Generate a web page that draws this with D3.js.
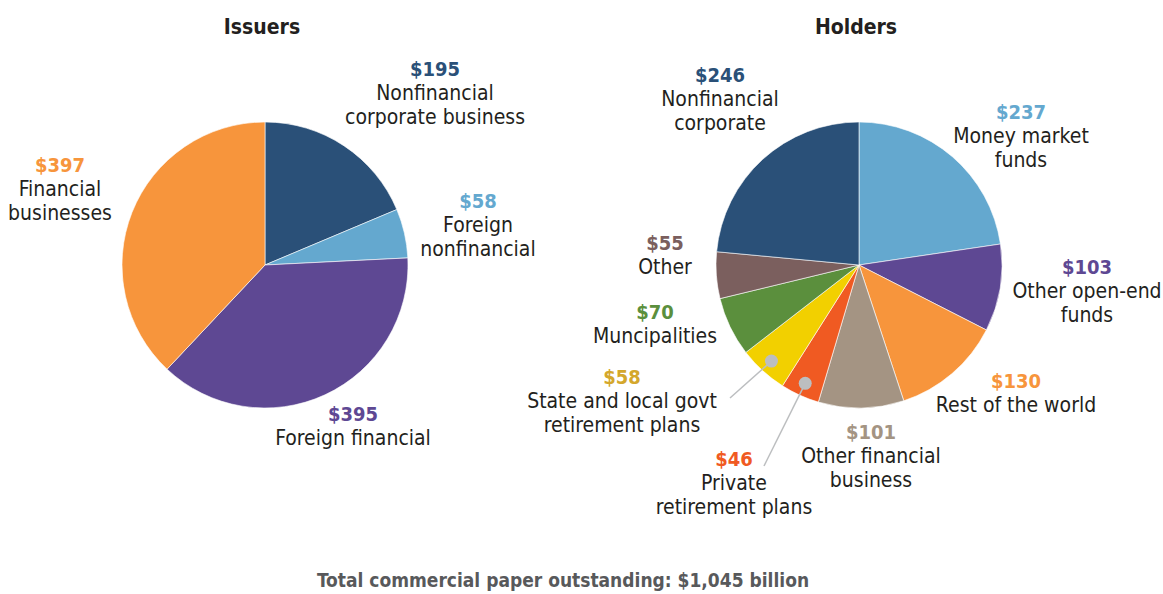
<!DOCTYPE html>
<html>
<head>
<meta charset="utf-8">
<script src="https://cdn.jsdelivr.net/npm/d3@7"></script>
<style>
  body { margin: 0; background: #fff; }
  svg text { font-family: "Liberation Sans Narrow", "DejaVu Sans Condensed", sans-serif; }
</style>
</head>
<body>
<div id="chart"></div>
<script>
// issuers
const issuerNames = ["Nonfinancial corporate business", "Foreign nonfinancial", "Foreign financial", "Financial businesses"];
const issuerValues = [195, 58, 395, 397];
const issuerColors = ["#2a5078", "#64a8cf", "#5e4893", "#f7953c"];

// holders
const holderNames = ["Money market funds", "Other open-end funds", "Rest of the world", "Other financial business",
  "Private retirement plans", "State and local govt retirement plans", "Muncipalities", "Other", "Nonfinancial corporate"];
const holderValues = [237, 103, 130, 101, 46, 58, 70, 55, 246];
const holderColors = ["#64a8cf", "#5e4893", "#f7953c", "#a49483", "#f05a22", "#f2d000", "#5b8f3d", "#7b5f5e", "#2a5078"];
const holderTextColors = ["#64a8cf", "#5e4893", "#f7953c", "#a49483", "#f05a22", "#d4a72c", "#5b8f3d", "#7b5f5e", "#2a5078"];

const total = "Total commercial paper outstanding: $1,045 billion";

// label placement: [x, y of value line, lines of name]
const issuerLabels = [
  [435, 69, ["Nonfinancial", "corporate business"]],
  [478, 201, ["Foreign", "nonfinancial"]],
  [353, 414, ["Foreign financial"]],
  [60, 165, ["Financial", "businesses"]]
];
const holderLabels = [
  [1021, 112, ["Money market", "funds"]],
  [1087, 267, ["Other open-end", "funds"]],
  [1016, 381, ["Rest of the world"]],
  [871, 432, ["Other financial", "business"]],
  [734, 459, ["Private", "retirement plans"]],
  [622, 377, ["State and local govt", "retirement plans"]],
  [655, 312, ["Muncipalities"]],
  [665, 243, ["Other"]],
  [720, 75, ["Nonfinancial", "corporate"]]
];

let dim = {width: 1163, height: 594};
let svg = d3.select('#chart').append('svg').attr('width', dim.width).attr('height', dim.height);

const r = 143;
let pie = d3.pie().sort(null).value(d => d);
let arc = d3.arc().innerRadius(0).outerRadius(r);

function drawPie(cx, cy, title, values, colors, textColors, labels, leaders) {
  let g = svg.append('g').attr('transform', `translate(${cx},${cy})`);
  let arcs = pie(values);
  g.selectAll('path').data(arcs).enter().append('path')
    .attr('d', arc)
    .attr('fill', (d, i) => colors[i])
    .attr('stroke', '#fff').attr('stroke-width', 0.6);

  svg.append('text').attr('x', cx - 3).attr('y', 34)
    .attr('text-anchor', 'middle').attr('font-size', 21).attr('font-weight', 'bold')
    .attr('fill', '#231f20').text(title);

  // leader lines and dots for small slices
  leaders.forEach(([i, lx, ly]) => {
    let a = (arcs[i].startAngle + arcs[i].endAngle) / 2;
    let px = cx + Math.sin(a) * 130, py = cy - Math.cos(a) * 130;
    svg.append('line').attr('x1', px).attr('y1', py).attr('x2', lx).attr('y2', ly)
      .attr('stroke', '#bcbec0').attr('stroke-width', 1.5);
    svg.append('circle').attr('cx', px).attr('cy', py).attr('r', 6.5).attr('fill', '#bcbec0');
  });

  labels.forEach(([x, y, lines], i) => {
    let t = svg.append('text').attr('text-anchor', 'middle').attr('font-size', 21);
    t.append('tspan').attr('x', x).attr('y', y + 7)
      .attr('font-weight', 'bold').attr('font-size', 20).attr('fill', textColors[i]).text('$' + values[i]);
    lines.forEach((l, k) => {
      t.append('tspan').attr('x', x).attr('y', y + 7 + 24 * (k + 1))
        .attr('fill', '#231f20').text(l);
    });
  });
}

drawPie(265, 265, "Issuers", issuerValues, issuerColors, issuerColors, issuerLabels, []);
drawPie(859, 265, "Holders", holderValues, holderColors, holderTextColors, holderLabels,
  [[5, 730, 398], [4, 764, 466]]);

svg.append('text').attr('x', 563).attr('y', 587)
  .attr('text-anchor', 'middle').attr('font-size', 19).attr('font-weight', 'bold')
  .attr('fill', '#58595b').text(total);
</script>
</body>
</html>
